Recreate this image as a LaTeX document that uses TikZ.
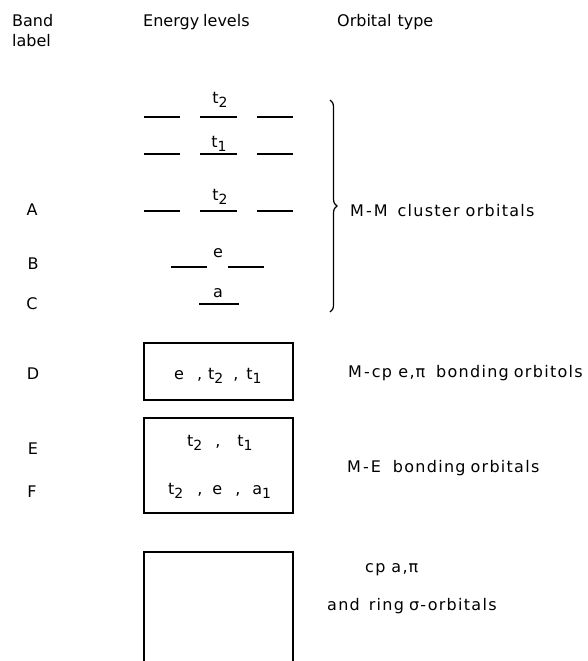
\documentclass[tikz,border=0pt]{standalone}
\usepackage{fontspec}
\setmainfont{DejaVu Sans}
\newfontfamily\widefont{DejaVu Sans}[LetterSpace=8]
\usetikzlibrary{decorations.pathreplacing}
\newcommand\subd[1]{\raisebox{-4.5pt}{\fontsize{14}{14}\selectfont #1}}
\newcommand\hs[1]{\hspace{#1pt}}
\begin{document}
\begin{tikzpicture}[x=1pt,y=-1pt,
  txt/.style={inner sep=0pt,font=\fontsize{16}{19}\selectfont},
  wtxt/.style={inner sep=0pt,font=\widefont\fontsize{16}{19}\selectfont},
  lvl/.style={line width=1.3pt},
  bx/.style={line width=1.3pt}]
\useasboundingbox (0,0) rectangle (587,661);
% headers
\node[txt,anchor=base west] (hband) at (12,27) {Band};
\node[txt,anchor=base west] (hlabel) at (12,47) {label};
\node[txt,anchor=base west] (henergy) at (143,27) {Energy\hs{4}levels};
\node[txt,anchor=base west] (horb) at (337,27) {Orbital\hs{6}type};
% band labels
\node[txt,anchor=base] (lA) at (32,215) {A};
\node[txt,anchor=base] (lB) at (33,269) {B};
\node[txt,anchor=base] (lC) at (32,309) {C};
\node[txt,anchor=base] (lD) at (33,379) {D};
\node[txt,anchor=base] (lE) at (33,454) {E};
\node[txt,anchor=base] (lF) at (32,497) {F};
% energy levels
\draw[lvl] (144,117) -- (180,117) (200,117) -- (237,117) (257,117) -- (293,117);
\node[txt,anchor=base] (t2a) at (220,103) {t\subd{2}};
\draw[lvl] (144,154) -- (180,154) (200,154) -- (237,154) (257,154) -- (293,154);
\node[txt,anchor=base] (t1a) at (219,147) {t\subd{1}};
\draw[lvl] (144,211) -- (180,211) (200,211) -- (237,211) (257,211) -- (293,211);
\node[txt,anchor=base] (t2b) at (220,200) {t\subd{2}};
\draw[lvl] (171,267) -- (207,267) (228,267) -- (264,267);
\node[txt,anchor=base] (ea) at (218,257) {e};
\draw[lvl] (199,304) -- (239,304);
\node[txt,anchor=base] (aa) at (218,297) {a};
% brace
\draw[line width=1.2pt,decorate,decoration={brace,amplitude=7pt}] (330,100) -- (330,312);
\node[wtxt,anchor=base west] (mm) at (350,216) {M\hs{2}-\hs{2}M\hs{10}cluster\hs{6}orbitals};
% box D
\draw[bx] (144,343) rectangle (293,400);
\node[txt,anchor=base west] (dtxt) at (174,379) {e\hs{13},\hs{6}t\subd{2}\hs{10},\hs{8}t\subd{1}};
\node[wtxt,anchor=base west] (dlab) at (348,377) {M\hs{2}-\hs{2}cp e,\hs{1}π\hs{11}bonding\hs{5}orbitols};
% box EF
\draw[bx] (144,418) rectangle (293,513);
\node[txt,anchor=base west] (etxt) at (187,446) {t\subd{2}\hs{13},\hs{17}t\subd{1}};
\node[txt,anchor=base west] (ftxt) at (168,494) {t\subd{2}\hs{14},\hs{10}e\hs{13},\hs{12}a\subd{1}};
\node[wtxt,anchor=base west] (eflab) at (347,472) {M\hs{2}-\hs{2}E\hs{12}bonding\hs{5}orbitals};
% bottom open box
\draw[bx] (144,661) -- (144,552) -- (293,552) -- (293,661);
\node[wtxt,anchor=base west] (cplab) at (365,572) {cp\hs{6}a,\hs{1}π};
\node[wtxt,anchor=base west] (ringlab) at (327,610) {and\hs{9}ring\hs{5}σ-orbitals};
\end{tikzpicture}
\end{document}
